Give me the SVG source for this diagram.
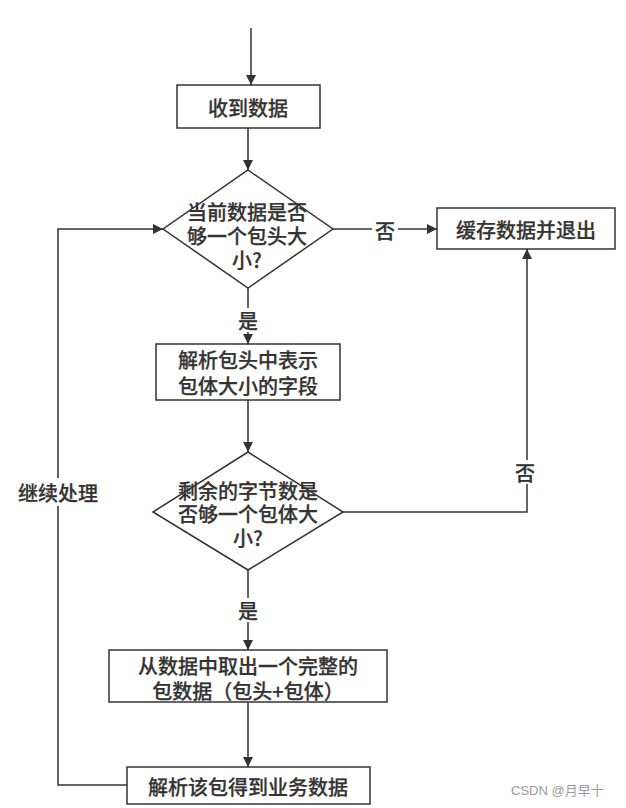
<svg xmlns="http://www.w3.org/2000/svg" width="626" height="808" viewBox="0 0 626 808">
<style>
.n{fill:#fff;stroke:#333;stroke-width:1.5}
.t{font-family:"Noto Sans CJK SC","Liberation Sans",sans-serif;font-size:20px;font-weight:500;fill:#333;stroke:#333;stroke-width:0.25;text-anchor:middle;dominant-baseline:central}
.c{fill:none;stroke:#333;stroke-width:1.5}
.w{font-family:"Liberation Sans","Noto Sans CJK SC",sans-serif;font-size:13px;fill:#999}
</style>
<defs>
<marker id="a" viewBox="0 0 10 10" refX="10" refY="5" markerWidth="10" markerHeight="10" markerUnits="userSpaceOnUse" orient="auto">
<path d="M0,0 L10,5 L0,10 Z" fill="#333"/>
</marker>
</defs>
<rect width="626" height="808" fill="#fff"/>
<g id="connectors">
<path class="c" d="M251,28 V85" marker-end="url(#a)"/>
<path class="c" d="M248,128 V170" marker-end="url(#a)"/>
<path class="c" d="M333,229 H437" marker-end="url(#a)"/>
<path class="c" d="M248,288 V344" marker-end="url(#a)"/>
<path class="c" d="M248,400 V452" marker-end="url(#a)"/>
<path class="c" d="M343,512 H527 V249" marker-end="url(#a)"/>
<path class="c" d="M248,570 V650" marker-end="url(#a)"/>
<path class="c" d="M248,702 V767" marker-end="url(#a)"/>
<path class="c" d="M127,785 H58 V229 H163" marker-end="url(#a)"/>
<rect x="372" y="218" width="26" height="24" fill="#fff"/>
<text class="t" x="385" y="230">否</text>
<rect x="512" y="460" width="26" height="24" fill="#fff"/>
<text class="t" x="525" y="472">否</text>
<rect x="235" y="308" width="26" height="24" fill="#fff"/>
<text class="t" x="248" y="320">是</text>
<rect x="235" y="598" width="26" height="24" fill="#fff"/>
<text class="t" x="248" y="610">是</text>
<rect x="16" y="478" width="86" height="28" fill="#fff"/>
<text class="t" x="58" y="492">继续处理</text>
</g>
<g id="recv">
<rect class="n" x="177" y="85" width="143" height="43"/>
<text class="t" x="248" y="107">收到数据</text>
</g>
<g id="check-head">
<path class="n" d="M248,170 L333,229 L248,288 L163,229 Z"/>
<text class="t" x="247" y="211">当前数据是否</text>
<text class="t" x="247" y="235">够一个包头大</text>
<text class="t" x="247" y="259">小?</text>
</g>
<g id="cache">
<rect class="n" x="437" y="208" width="178" height="41"/>
<text class="t" x="526" y="229">缓存数据并退出</text>
</g>
<g id="parse-head">
<rect class="n" x="156" y="344" width="184" height="56"/>
<text class="t" x="248" y="359">解析包头中表示</text>
<text class="t" x="248" y="385">包体大小的字段</text>
</g>
<g id="check-body">
<path class="n" d="M248,452 L343,512 L248,570 L153,512 Z"/>
<text class="t" x="248" y="490">剩余的字节数是</text>
<text class="t" x="248" y="513">否够一个包体大</text>
<text class="t" x="248" y="537">小?</text>
</g>
<g id="extract">
<rect class="n" x="109" y="650" width="278" height="52"/>
<text class="t" x="248" y="665">从数据中取出一个完整的</text>
<text class="t" x="248" y="690">包数据（包头+包体）</text>
</g>
<g id="parse-body">
<rect class="n" x="127" y="767" width="243" height="37"/>
<text class="t" x="248" y="786">解析该包得到业务数据</text>
</g>
<text class="w" x="511" y="795">CSDN @月早十</text>
</svg>
